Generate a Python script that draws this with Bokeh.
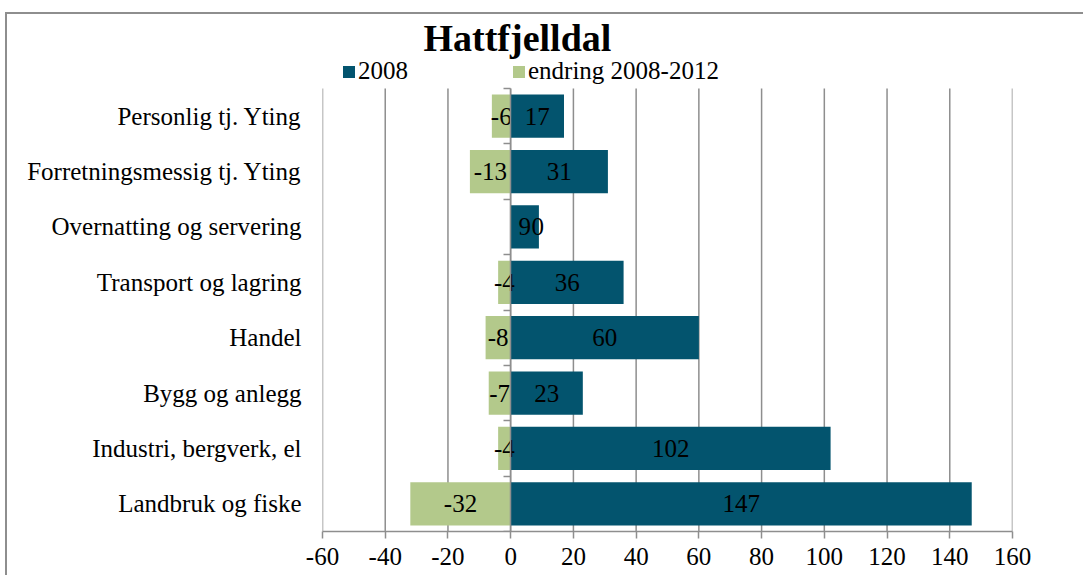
from bokeh.plotting import figure
from bokeh.models import (ColumnDataSource, Range1d, FixedTicker, LinearAxis,
                          Legend, LegendItem, CustomJSTickFormatter)
from bokeh.core.properties import value
from bokeh.embed import file_html
from bokeh.resources import INLINE

# ---- data (top to bottom as shown) ----
categories = ["Personlig tj. Yting", "Forretningsmessig tj. Yting",
              "Overnatting og servering", "Transport og lagring", "Handel",
              "Bygg og anlegg", "Industri, bergverk, el", "Landbruk og fiske"]
v2008 = [17, 31, 9, 36, 60, 23, 102, 147]
endring = [-6, -13, 0, -4, -8, -7, -4, -32]
x_ticks = [-60, -40, -20, 0, 20, 40, 60, 80, 100, 120, 140, 160]
series_names = ["2008", "endring 2008-2012"]

FONT = "Liberation Serif"
TEAL = "#03546E"
GREEN = "#B3C98B"
GRID = "#8E8E8E"

n = len(categories)
ypos = [n - 1 - i for i in range(n)]
legend_room = 0.578   # extra space (in category units) above the bars for the legend

src = ColumnDataSource(dict(
    y=ypos,
    v2008=v2008,
    endring=endring,
    mid2008=[v / 2 for v in v2008],
    midend=[v / 2 for v in endring],
    lab2008=[str(v) for v in v2008],
    labend=[str(v) for v in endring],
    offend=[27 if v == 0 else 0 for v in endring],
))
grid_src = ColumnDataSource(dict(x=x_ticks,
                                 y0=[-0.5] * len(x_ticks),
                                 y1=[n - 0.5] * len(x_ticks)))

p = figure(width=1083, height=575,
           min_border_left=322, min_border_right=71,
           min_border_top=56, min_border_bottom=44,
           x_range=Range1d(x_ticks[0], x_ticks[-1]),
           y_range=Range1d(-0.5, n - 0.5 + legend_room),
           output_backend="svg", toolbar_location=None,
           title="Hattfjelldal")

p.outline_line_color = None
p.background_fill_color = "white"
p.border_fill_color = None

# vertical grid lines (limited to the bar area)
p.segment(x0="x", y0="y0", x1="x", y1="y1", source=grid_src,
          line_color=GRID, line_width=1.5)
p.xgrid.grid_line_color = None
p.ygrid.grid_line_color = None

# bars
r1 = p.hbar(y="y", left=0, right="v2008", height=0.78, source=src,
            fill_color=TEAL, line_color=None)
r2 = p.hbar(y="y", left=0, right="endring", height=0.78, source=src,
            fill_color=GREEN, line_color=None)

# labels
p.text(x="mid2008", y="y", text="lab2008", source=src,
       text_align="center", text_baseline="middle",
       text_font=value(FONT), text_font_size="25px", text_color="black")
p.text(x="midend", y="y", text="labend", source=src, x_offset="offend",
       text_align="center", text_baseline="middle",
       text_font=value(FONT), text_font_size="25px", text_color="black")

# bottom axis
xa = p.xaxis[0]
xa.ticker = FixedTicker(ticks=x_ticks)
xa.major_label_overrides = {t: str(t) for t in x_ticks}
xa.axis_line_color = GRID
xa.axis_line_width = 1.5
xa.major_tick_line_color = GRID
xa.major_tick_line_width = 1.5
xa.major_tick_out = 7
xa.major_tick_in = 0
xa.minor_tick_line_color = None
xa.major_label_text_font = FONT
xa.major_label_text_font_size = "25px"
xa.major_label_text_color = "black"
xa.major_label_standoff = 9

# left category labels
ya = p.yaxis[0]
ya.ticker = FixedTicker(ticks=ypos)
ya.major_label_overrides = {y: c for y, c in zip(ypos, categories)}
ya.axis_line_color = None
ya.major_tick_line_color = None
ya.minor_tick_line_color = None
ya.major_label_text_font = FONT
ya.major_label_text_font_size = "25px"
ya.major_label_text_color = "black"
ya.major_label_standoff = 15

# category axis drawn at x = 0 with ticks between categories
cat_axis = LinearAxis(fixed_location=0, bounds=(-0.5, n - 0.5),
                      ticker=FixedTicker(ticks=[k - 0.5 for k in range(n + 1)]),
                      formatter=CustomJSTickFormatter(code="return ''"),
                      axis_line_color=GRID, axis_line_width=1.5,
                      major_tick_line_color=GRID, major_tick_line_width=1.5,
                      major_tick_out=7, major_tick_in=0,
                      minor_tick_line_color=None,
                      major_label_text_font_size="1px",
                      major_label_standoff=0)
p.add_layout(cat_axis, "left")

# title
p.title.text_font = FONT
p.title.text_font_style = "bold"
p.title.text_font_size = "38px"
p.title.text_color = "black"
p.title.align = "left"
p.title.offset = 101
p.title.standoff = -5

# legend
legend = Legend(items=[LegendItem(label=series_names[0], renderers=[r1]),
                       LegendItem(label=series_names[1], renderers=[r2])],
                orientation="horizontal", location=(19, 446),
                glyph_width=15, glyph_height=15, label_standoff=2,
                label_width=139, spacing=14, padding=0, margin=0,
                border_line_color=None, background_fill_alpha=0,
                label_text_font=FONT, label_text_font_size="25px",
                label_text_color="black")
p.add_layout(legend, "center")

# chart frame (grey lines at left and top, running off the page)
p.styles = {"background":
            "linear-gradient(#8E8E8E, #8E8E8E) 5px 12px / 2px 100% no-repeat, "
            "linear-gradient(#8E8E8E, #8E8E8E) 5px 12px / 100% 2px no-repeat, "
            "#ffffff"}

open("out.html", "w").write(file_html(p, INLINE))
